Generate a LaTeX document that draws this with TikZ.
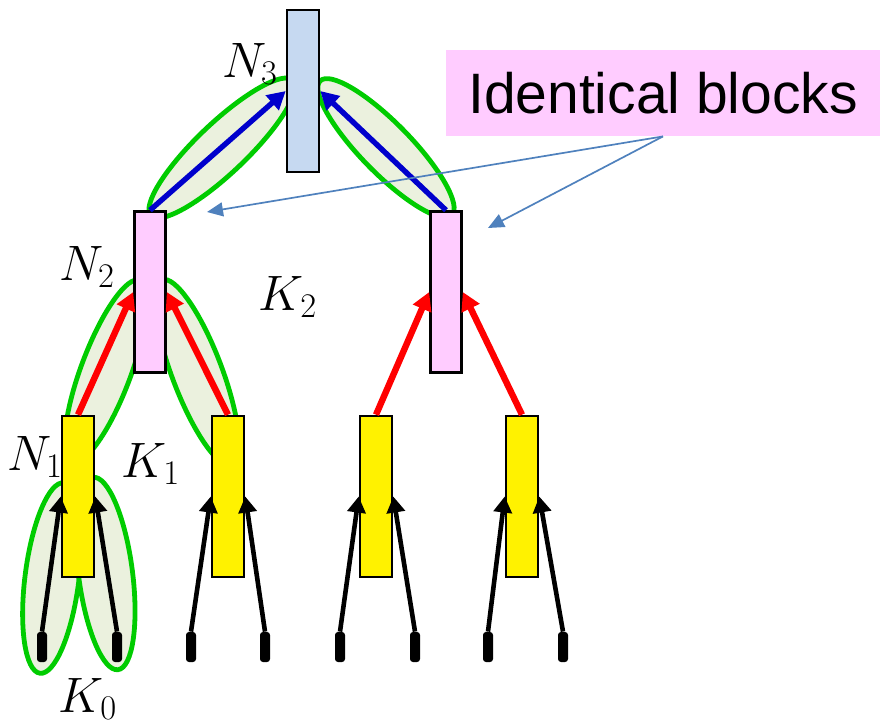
\documentclass[tikz,border=0pt]{standalone}
\usepackage{amsmath}
\usepackage{fontspec}
\usetikzlibrary{arrows.meta}
\newfontfamily\notefont{Liberation Sans}
\DeclareMathSizes{25}{25}{17.5}{12.5}
\definecolor{halofill}{RGB}{235,241,222}
\definecolor{haloline}{RGB}{0,204,0}
\definecolor{pinkblk}{RGB}{255,204,255}
\definecolor{blueblk}{RGB}{198,217,241}
\definecolor{deepblue}{RGB}{0,0,204}
\definecolor{noteblue}{RGB}{79,129,189}

\begin{document}
\begin{tikzpicture}[x=0.5pt, y=-0.5pt,
  blk/.style={draw, line width=1.3pt, inner sep=0pt, minimum width=16pt, minimum height=80.5pt},
  pin/.style={fill=black, inner sep=0pt, minimum width=5pt, minimum height=15pt, rounded corners=1.5pt},
  halo/.style={fill=halofill, draw=haloline, line width=2.4pt},
  lab/.style={anchor=base, inner sep=0pt, font=\fontsize{25}{30}\selectfont},
  tipB/.style={-{Triangle[length=8pt,width=9pt]}, line width=2.3pt},
  tipR/.style={red, -{Triangle[length=9pt,width=9.5pt]}, line width=3.2pt},
  tipD/.style={deepblue, -{Triangle[length=9pt,width=9.5pt]}, line width=2.7pt},
  note/.style={noteblue, -{Triangle[length=8pt,width=7pt]}, line width=0.85pt}]
  \useasboundingbox (0,0) rectangle (882,724);

  \filldraw[halo, rotate around={82.8:(52,578)}] (52,578) ellipse [x radius=48pt, y radius=13.5pt];
  \filldraw[halo, rotate around={-82.6:(105.5,573.5)}] (105.5,573.5) ellipse [x radius=48.5pt, y radius=13.5pt];
  \filldraw[halo, rotate around={69.5:(106,371)}] (106,371) ellipse [x radius=48.5pt, y radius=12.5pt];
  \filldraw[halo, rotate around={-69.3:(197,372.5)}] (197,372.5) ellipse [x radius=49.5pt, y radius=12.5pt];
  \filldraw[halo, rotate around={43.6:(222,148)}] (222,148) ellipse [x radius=49pt, y radius=12.5pt];
  \filldraw[halo, rotate around={-45.6:(386,148)}] (386,148) ellipse [x radius=47pt, y radius=12.5pt];

  \node[blk, fill=blueblk, minimum height=81pt] (top) at (303,91) {};
  \node[blk, fill=pinkblk, minimum width=15.5pt] (mL) at (150,292) {};
  \node[blk, fill=pinkblk, minimum width=15.5pt] (mR) at (446,292) {};
  \node[blk, fill=yellow] (y1) at (78,496.5) {};
  \node[blk, fill=yellow] (y2) at (228,496.5) {};
  \node[blk, fill=yellow] (y3) at (376,496.5) {};
  \node[blk, fill=yellow] (y4) at (522,496.5) {};

  \node[pin] (in1) at (42,647) {};
  \node[pin] (in2) at (117,647) {};
  \node[pin] (in3) at (191,647) {};
  \node[pin] (in4) at (265,647) {};
  \node[pin] (in5) at (340,647) {};
  \node[pin] (in6) at (415,647) {};
  \node[pin] (in7) at (488,647) {};
  \node[pin] (in8) at (563,647) {};

  \draw[tipB] (in1.north) -- (y1.west);
  \draw[tipB] (in2.north) -- (y1.east);
  \draw[tipB] (in3.north) -- (y2.west);
  \draw[tipB] (in4.north) -- (y2.east);
  \draw[tipB] (in5.north) -- (y3.west);
  \draw[tipB] (in6.north) -- (y3.east);
  \draw[tipB] (in7.north) -- (y4.west);
  \draw[tipB] (in8.north) -- (y4.east);

  \draw[tipR] (y1.north) -- (mL.west);
  \draw[tipR] (y2.north) -- (mL.east);
  \draw[tipR] (y3.north) -- (mR.west);
  \draw[tipR] (y4.north) -- (mR.east);

  \draw[tipD] (mL.north) -- (top.west);
  \draw[tipD] (mR.north) -- (top.east);

  \node[lab] (ln3) at (250,77) {$N_3$};
  \node[lab] (ln2) at (87,280) {$N_2$};
  \node[lab] (lk2) at (288,310) {$K_2$};
  \node[lab] (ln1) at (35,470) {$N_1$};
  \node[lab] (lk1) at (151,477) {$K_1$};
  \node[lab] (lk0) at (88,712) {$K_0$};

  \node[fill=pinkblk, inner sep=0pt, minimum width=217pt, minimum height=43pt,
    font=\notefont\fontsize{28.5}{34}\selectfont] (idb) at (663,93) {Identical blocks};
  \coordinate (ptL) at (207,212);
  \coordinate (ptR) at (488,228);
  \draw[note] (idb.south) -- (ptL);
  \draw[note] (idb.south) -- (ptR);
\end{tikzpicture}
\end{document}
